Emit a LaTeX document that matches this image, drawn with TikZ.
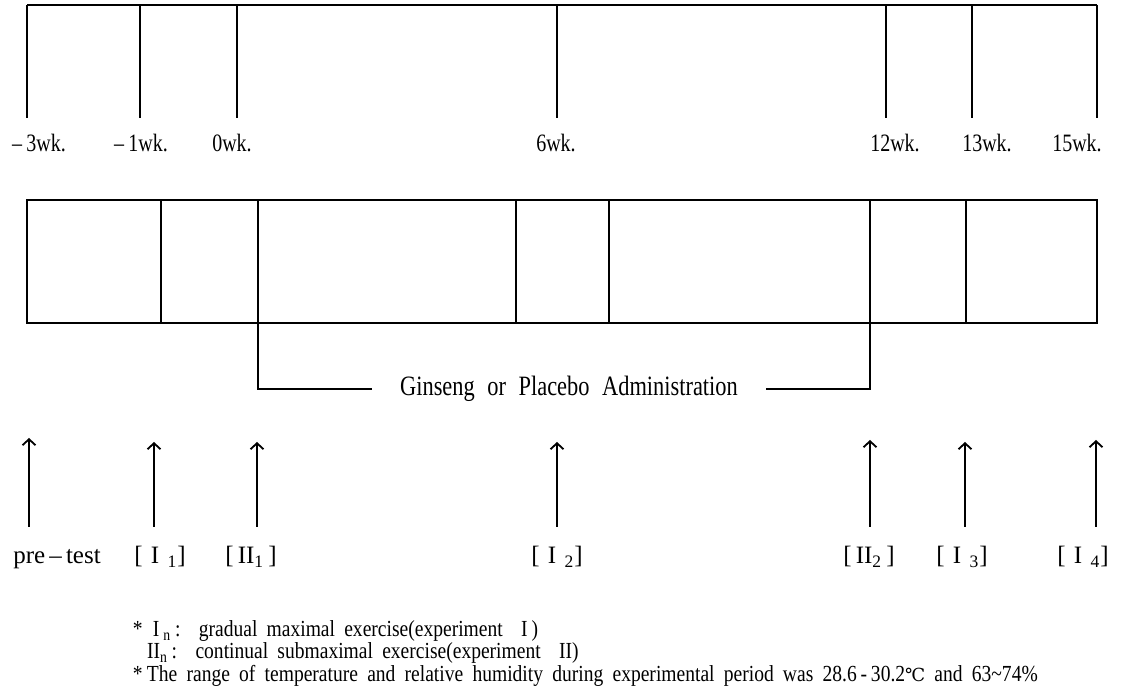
\documentclass[tikz,border=0pt]{standalone}
\usepackage{fontspec}
\setmainfont{Liberation Serif}
\newfontfamily\labfont{Liberation Serif}[FakeStretch=0.8]
\newfontfamily\notefont{Liberation Serif}[FakeStretch=0.85]
\newfontfamily\symfont{DejaVu Serif}
\usetikzlibrary{arrows.meta, positioning}

\begin{document}
\begin{tikzpicture}[
    x=0.5pt, y=-0.5pt,
    >={Straight Barb[length=3pt, width=6.5pt]},
    every node/.style={inner sep=0pt, outer sep=0pt},
    % --- line styles ---
    rule/.style={line width=0.9pt, black},
    arr/.style={->, line width=0.9pt, black},
    % --- text styles ---
    wklbl/.style={font=\labfont\fontsize{12.5}{14}\selectfont, anchor=base},
    testlbl/.style={font=\fontsize{12.5}{14}\selectfont, anchor=base},
    admin/.style={font=\labfont\fontsize{14}{16}\selectfont,
                  execute at begin node={\spaceskip=0.45em\relax},
                  inner xsep=14pt},
    note/.style={font=\notefont\fontsize{11.5}{13}\selectfont,
                 execute at begin node={\spaceskip=0.4em\relax},
                 anchor=base west},
]
\useasboundingbox (0,0) rectangle (1121,688);

% ===== WEEK SCALE ===========================================================

\coordinate (tm3) at (27,5);
\coordinate (tm1) at (140,5);
\coordinate (t0)  at (237,5);
\coordinate (t6)  at (557,5);
\coordinate (t12) at (886,5);
\coordinate (t13) at (972,5);
\coordinate (t15) at (1097,5);

\draw[rule] (tm3) -- (t15);
\draw[rule] (tm3) -- ++(0,113);
\draw[rule] (tm1) -- ++(0,113);
\draw[rule] (t0)  -- ++(0,113);
\draw[rule] (t6)  -- ++(0,113);
\draw[rule] (t12) -- ++(0,113);
\draw[rule] (t13) -- ++(0,113);
\draw[rule] (t15) -- ++(0,113);

\node[wklbl] (wkm3) at (39,152)   {\textendash\,3wk.};
\node[wklbl] (wkm1) at (141,152)  {\textendash\,1wk.};
\node[wklbl] (wk0)  at (232,152)  {0wk.};
\node[wklbl] (wk6)  at (556,152)  {6wk.};
\node[wklbl] (wk12) at (895,152)  {12wk.};
\node[wklbl] (wk13) at (987,152)  {13wk.};
\node[wklbl] (wk15) at (1077,152) {15wk.};

% ===== PERIOD BAR ===========================================================

\draw[rule] (27,200) rectangle (1097,323);
\draw[rule] (161,200) -- (161,323);
\draw[rule] (258,200) -- (258,323);
\draw[rule] (516,200) -- (516,323);
\draw[rule] (609,200) -- (609,323);
\draw[rule] (870,200) -- (870,323);
\draw[rule] (966,200) -- (966,323);

% -- administration bracket --
\node[admin] (admin) at (569,389) {Ginseng or Placebo Administration};
\draw[rule] (258,323) |- (admin.west);
\draw[rule] (870,323) |- (admin.east);

% ===== TEST POINTS ==========================================================

\coordinate (aPre) at (29,527);   \coordinate (hPre) at (29,438);
\coordinate (aIa)  at (154,527);  \coordinate (hIa)  at (154,442);
\coordinate (aIIa) at (257,527);  \coordinate (hIIa) at (257,442);
\coordinate (aIb)  at (557,527);  \coordinate (hIb)  at (557,442);
\coordinate (aIIb) at (870,527);  \coordinate (hIIb) at (870,440);
\coordinate (aIc)  at (965,527);  \coordinate (hIc)  at (965,442);
\coordinate (aId)  at (1096,527); \coordinate (hId)  at (1096,440);

\draw[arr] (aPre) -- (hPre);
\draw[arr] (aIa)  -- (hIa);
\draw[arr] (aIIa) -- (hIIa);
\draw[arr] (aIb)  -- (hIb);
\draw[arr] (aIIb) -- (hIIb);
\draw[arr] (aIc)  -- (hIc);
\draw[arr] (aId)  -- (hId);

\node[testlbl] (pre)  at (57,564)   {pre\,\textendash\,test};
\node[testlbl] (tIa)  at (160,564)  {[\,\,I\,\,\textsubscript{1}]};
\node[testlbl] (tIIa) at (251,564)  {[\,II\textsubscript{1}\,]};
\node[testlbl] (tIb)  at (557,564)  {[\,\,I\,\,\textsubscript{2}]};
\node[testlbl] (tIIb) at (869,564)  {[\,II\textsubscript{2}\,]};
\node[testlbl] (tIc)  at (962,564)  {[\,\,I\,\,\textsubscript{3}]};
\node[testlbl] (tId)  at (1083,564) {[\,\,I\,\,\textsubscript{4}]};

% ===== NOTES ================================================================

\node[note] (noteA) at (133,637)
    {\makebox[7pt][l]{*}\hspace{3pt}I\,\textsubscript{n}\,:\ \ gradual maximal exercise(experiment\ \ I\,)};
\node[note] (noteB) at (133,659)
    {\makebox[7pt][l]{}II\textsubscript{n}\,:\ \ continual submaximal exercise(experiment\ \ II)};
\node[note] (noteC) at (133,682)
    {\makebox[7pt][l]{*}The range of temperature and relative humidity during experimental period was 28.6\,-\,30.2{\symfont\fontsize{9}{10}\selectfont ℃} and 63\textasciitilde74\%};

\end{tikzpicture}
\end{document}
